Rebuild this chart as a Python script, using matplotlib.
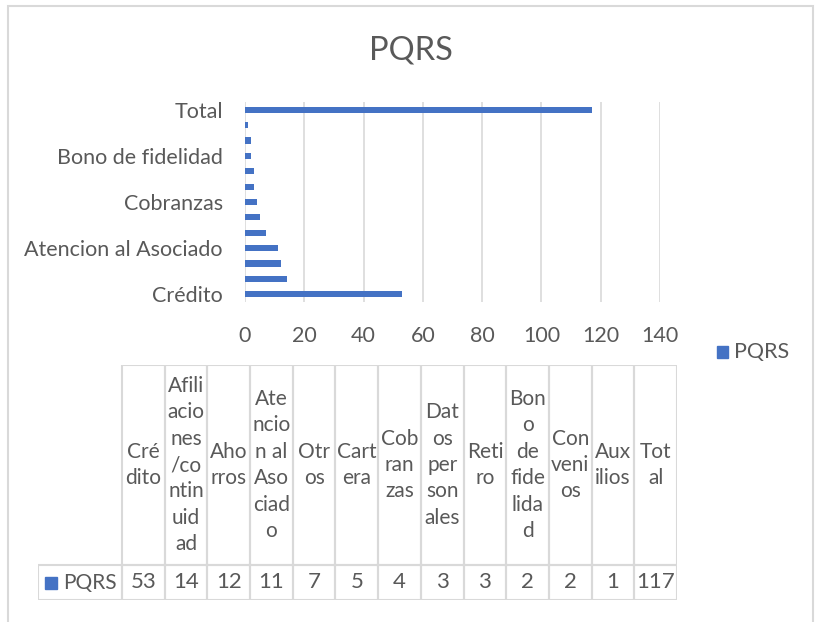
import matplotlib.pyplot as plt
from matplotlib.patches import Rectangle

# ---- data ----
categories = ["Crédito", "Afiliaciones/continuidad", "Ahorros", "Atencion al Asociado",
              "Otros", "Cartera", "Cobranzas", "Datos personales", "Retiro",
              "Bono de fidelidad", "Convenios", "Auxilios", "Total"]
values = [53, 14, 12, 11, 7, 5, 4, 3, 3, 2, 2, 1, 117]
# header text as wrapped inside the data table cells
table_headers = ["Cré\ndito", "Afili\nacio\nnes\n/co\nntin\nuid\nad", "Aho\nrros",
                 "Ate\nncio\nn al\nAso\nciad\no", "Otr\nos", "Cart\nera", "Cob\nran\nzas",
                 "Dat\nos\nper\nson\nales", "Reti\nro", "Bon\no\nde\nfide\nlida\nd",
                 "Con\nveni\nos", "Aux\nilios", "Tot\nal"]
series_name = "PQRS"
x_ticks = [0, 20, 40, 60, 80, 100, 120, 140]

BLUE = "#4472c4"
GRID = "#d9d9d9"
TXT = "#595959"
FONT = ["Lato", "DejaVu Sans"]

plt.rcParams["font.family"] = FONT

W, H = 821, 622
fig = plt.figure(figsize=(W / 100, H / 100), dpi=100)


def fx(px):
    return px / W


def fy(py):
    return 1 - py / H


# outer chart border
fig.patches.append(Rectangle((fx(8), fy(640)), fx(813) - fx(8), fy(6) - fy(640),
                             transform=fig.transFigure, fill=False,
                             edgecolor=GRID, linewidth=1.5))

# ---- bar chart ----
ax = fig.add_axes([fx(245), fy(302), fx(660) - fx(245), fy(102) - fy(302)])
ypos = list(range(len(categories)))
ax.barh(ypos, values, height=0.4, color=BLUE, zorder=3)
ax.set_xlim(0, 140)
ax.set_ylim(-0.5, len(categories) - 0.5)
ax.set_xticks(x_ticks)
ax.set_xticklabels([str(t) for t in x_ticks])
ax.set_yticks(ypos[::3])
ax.set_yticklabels(categories[::3])
ax.grid(axis="x", color=GRID, linewidth=1.2, zorder=0)
for s in ax.spines.values():
    s.set_visible(False)
ax.tick_params(length=0, labelsize=15.5, colors=TXT)
ax.tick_params(axis="x", pad=17)
ax.tick_params(axis="y", pad=16)

fig.text(fx(411), fy(50), "PQRS", ha="center", va="center", fontsize=23.5, color=TXT)

# legend
fig.patches.append(Rectangle((fx(717), fy(358)), fx(11), fy(346) - fy(358),
                             transform=fig.transFigure, color=BLUE))
fig.text(fx(734), fy(352), series_name, ha="left", va="center", fontsize=15.5, color=TXT)

# ---- data table ----
tab = fig.add_axes([fx(38), fy(600), fx(677) - fx(38), fy(365) - fy(600)])
w0 = 84 / 42.7
n = len(categories)
tab.set_xlim(0, w0 + n)
tab.set_ylim(0, 235)
tab.axis("off")
row_h = 35
for i, (hdr, v) in enumerate(zip(table_headers, values)):
    x0 = w0 + i
    tab.add_patch(Rectangle((x0, row_h), 1, 235 - row_h, fill=False, edgecolor=GRID, linewidth=1.5))
    tab.add_patch(Rectangle((x0, 0), 1, row_h, fill=False, edgecolor=GRID, linewidth=1.5))
    tab.text(x0 + 0.5, row_h + (235 - row_h) / 2, hdr, ha="center", va="center",
             fontsize=15, color=TXT, linespacing=1.4)
    tab.text(x0 + 0.5, row_h / 2, str(v), ha="center", va="center", fontsize=16, color=TXT)
tab.add_patch(Rectangle((0, 0), w0, row_h, fill=False, edgecolor=GRID, linewidth=1.5))
tab.add_patch(Rectangle((0.17, row_h / 2 - 6), 0.28, 12, color=BLUE))
tab.text(0.58, row_h / 2, series_name, ha="left", va="center", fontsize=15, color=TXT)

fig.savefig("out.png", dpi=100)
